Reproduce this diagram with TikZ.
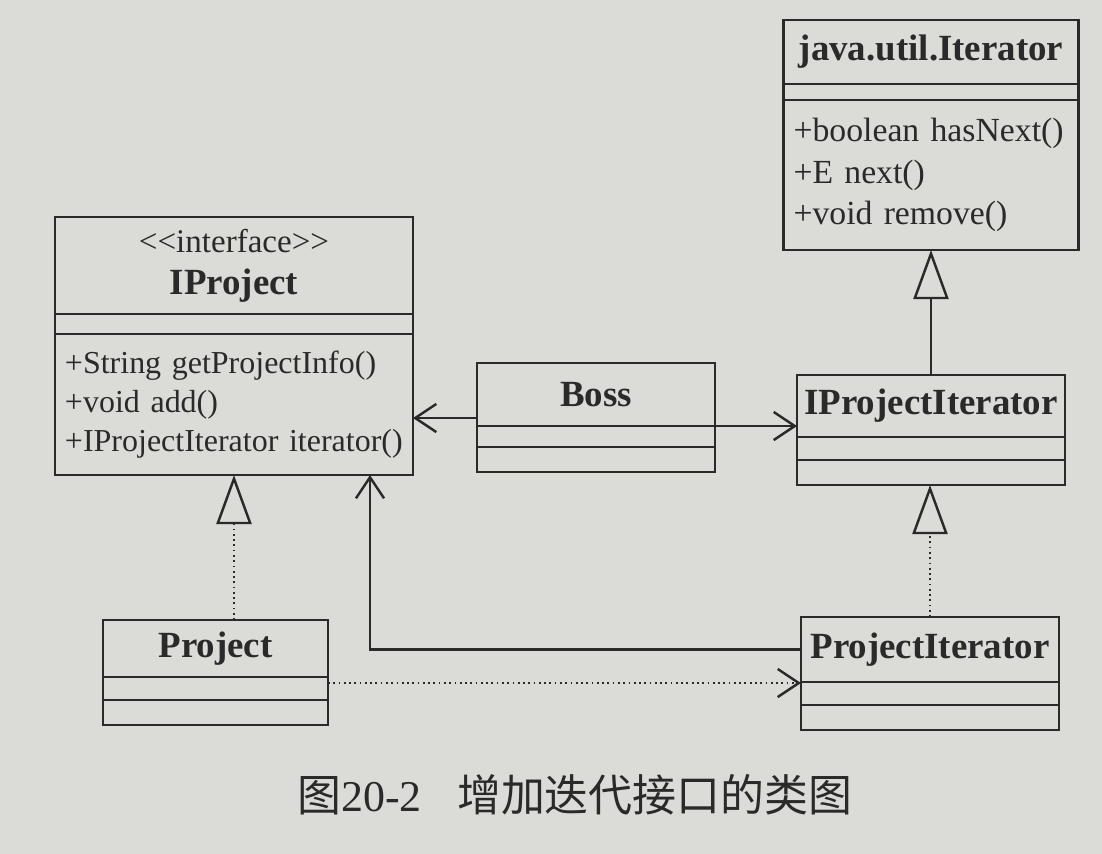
\documentclass[tikz,border=0pt]{standalone}
\usepackage{fontspec}
\setmainfont{Liberation Serif}
\newfontfamily\cjk{Noto Sans CJK SC}
\usetikzlibrary{arrows.meta, positioning, calc}
\definecolor{paper}{RGB}{219,219,215}
\definecolor{ink}{RGB}{42,42,42}

\begin{document}
\begin{tikzpicture}[
  clsname/.style={draw=ink, line width=0.7pt, outer sep=0pt, text=ink, align=center, inner sep=0pt, font=\bfseries\fontsize{10.5}{12}\selectfont},
  clspart/.style={draw=ink, line width=0.7pt, outer sep=0pt, inner sep=0pt, minimum height=0.23cm},
  clsops/.style={draw=ink, line width=0.7pt, outer sep=0pt, text=ink, align=left, inner xsep=1mm, inner ysep=0pt, font=\fontsize{9.1}{11}\selectfont},
  gen/.style={draw=ink, line width=0.7pt, -{Triangle[open, length=14pt, width=10pt, line width=0.7pt]}},
  real/.style={gen, line width=0.5pt, densely dotted},
  assoc/.style={draw=ink, line width=0.7pt, -{Straight Barb[length=6pt, width=8pt, line width=0.7pt]}},
  dep/.style={assoc, line width=0.5pt, densely dotted}
]
  \fill[paper] (0,0) rectangle (11.02,-8.54);
  \useasboundingbox (0,0) rectangle (11.02,-8.54);

  \node[clsname, minimum width=2.95cm, minimum height=0.64cm, anchor=north] (jit) at (9.31,-0.20) {java.util.Iterator};
  \node[clspart, minimum width=2.95cm, minimum height=0.16cm, below=0pt of jit] (jit-a) {};
  \node[clsops, text width=2.75cm, minimum height=1.50cm, below=0pt of jit-a, font=\fontsize{9.6}{11.8}\selectfont] (jit-m) {+boolean hasNext()\\+E next()\\+void remove()};

  \node[clsname, minimum width=3.58cm, minimum height=0.97cm, anchor=north] (iproj) at (2.34,-2.17) {{\mdseries\fontsize{9.4}{12}\selectfont <\kern0pt<interface>\kern0pt>}\\IProject};
  \node[clspart, minimum width=3.58cm, minimum height=0.20cm, below=0pt of iproj] (iproj-a) {};
  \node[clsops, text width=3.38cm, minimum height=1.41cm, below=0pt of iproj-a] (iproj-m) {+String getProjectInfo()\\+void add()\\+IProjectIterator iterator()};

  \node[clsname, minimum width=2.38cm, minimum height=0.63cm, anchor=north] (boss) at (5.96,-3.63) {Boss};
  \node[clspart, minimum width=2.38cm, minimum height=0.21cm, below=0pt of boss] (boss-a) {};
  \node[clspart, minimum width=2.38cm, minimum height=0.25cm, below=0pt of boss-a] (boss-b) {};

  \node[clsname, minimum width=2.68cm, minimum height=0.62cm, anchor=north] (ipi) at (9.31,-3.75) {IProjectIterator};
  \node[clspart, minimum width=2.68cm, below=0pt of ipi] (ipi-a) {};
  \node[clspart, minimum width=2.68cm, minimum height=0.25cm, below=0pt of ipi-a] (ipi-b) {};

  \node[clsname, minimum width=2.25cm, minimum height=0.57cm, anchor=north] (proj) at (2.155,-6.20) {Project};
  \node[clspart, minimum width=2.25cm, below=0pt of proj] (proj-a) {};
  \node[clspart, minimum width=2.25cm, minimum height=0.25cm, below=0pt of proj-a] (proj-b) {};

  \node[clsname, minimum width=2.58cm, minimum height=0.65cm, anchor=north] (pi) at (9.30,-6.17) {ProjectIterator};
  \node[clspart, minimum width=2.58cm, below=0pt of pi] (pi-a) {};
  \node[clspart, minimum width=2.58cm, minimum height=0.25cm, below=0pt of pi-a] (pi-b) {};

  \draw[gen] (ipi.north -| jit-m.south) -- (jit-m.south);
  \draw[real] (pi.north) -- (pi.north |- ipi-b.south);
  \draw[real] (proj.north -| iproj-m.south) -- (iproj-m.south);
  \draw[assoc] ([yshift=0.8mm]boss.south west) -- ([yshift=0.8mm]boss.south west -| iproj-m.east);
  \draw[assoc] (boss.south east) -- (boss.south east -| ipi.west);
  \draw[assoc] (pi.west) -| ([xshift=1.36cm]iproj-m.south);
  \draw[dep] ([yshift=-0.6mm]proj.south east) -- ([yshift=-0.6mm]proj.south east -| pi.west);

  \node[text=ink, font=\fontsize{12.5}{14}\selectfont] (cap) at (5.75,-7.95) {\cjk 图\rmfamily 20-2\hspace{0.8em}\cjk 增加迭代接口的类图};
\end{tikzpicture}
\end{document}
